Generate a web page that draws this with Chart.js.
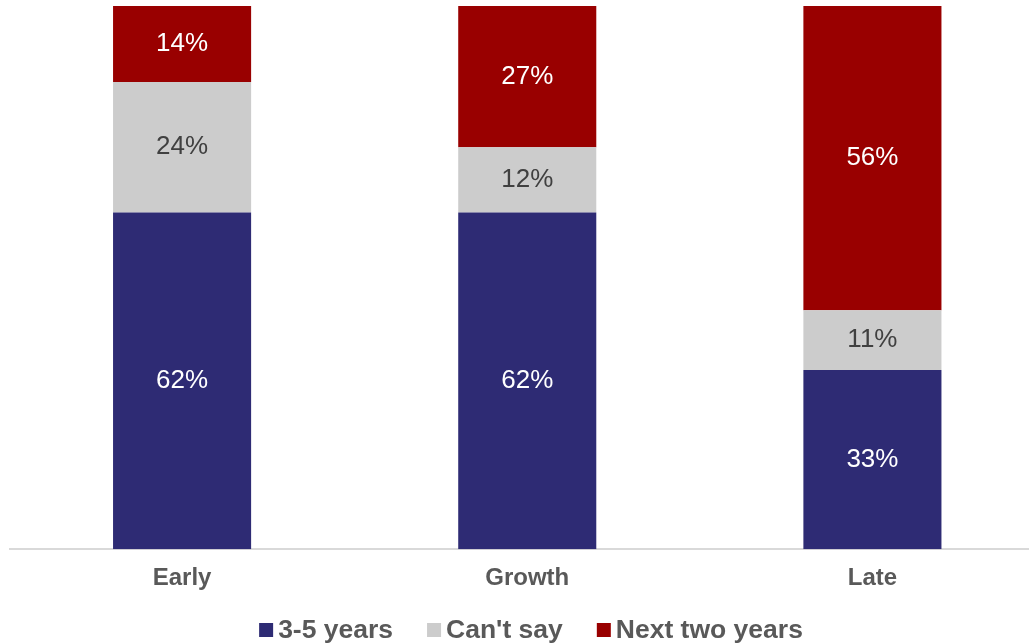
<!DOCTYPE html>
<html>
<head>
<meta charset="utf-8">
<script src="https://cdn.jsdelivr.net/npm/chart.js@4/dist/chart.umd.min.js"></script>
<style>
  html, body { margin: 0; padding: 0; background: #fff; overflow: hidden; }
  #wrap { position: absolute; left: 0; top: 0; width: 1045px; height: 644px; }
</style>
</head>
<body>
<div id="wrap"><canvas id="chart" width="1045" height="644"></canvas></div>
<script>
// stages and their answers (share of respondents, %)
var stages = ['Early', 'Growth', 'Late'];
var seriesNames = ['3-5 years', "Can't say", 'Next two years'];
var threeToFive = [62, 62, 33];
var cantSay = [24, 12, 11];
var nextTwo = [14, 27, 56];

var colors = ['#2e2b74', '#cccccc', '#990000'];
var labelColors = ['#ffffff', '#404040', '#ffffff'];
var FONT = '"Liberation Sans", Arial, sans-serif';

// writes the % value in the middle of every segment
var segmentLabels = {
	id: 'segmentLabels',
	afterDatasetsDraw: function(chart){
		var ctx = chart.ctx;
		var top = chart.chartArea.top;
		ctx.save();
		ctx.font = '26px ' + FONT;
		ctx.textAlign = 'center';
		ctx.textBaseline = 'middle';
		chart.data.datasets.forEach(function(ds, i){
			chart.getDatasetMeta(i).data.forEach(function(bar, j){
				var y = (Math.max(bar.y, top) + bar.base) / 2;
				ctx.fillStyle = labelColors[i];
				ctx.fillText(ds.data[j] + '%', bar.x, y);
			});
		});
		ctx.restore();
	}
};

// legend row under the axis: small square + bold name
var bottomLegend = {
	id: 'bottomLegend',
	afterDraw: function(chart){
		var ctx = chart.ctx;
		var box = 14, gap = 5, itemGap = 34, y = 630;
		ctx.save();
		ctx.font = 'bold 26.5px ' + FONT;
		ctx.textBaseline = 'middle';
		var widths = seriesNames.map(function(n){ return ctx.measureText(n).width; });
		var total = 0;
		widths.forEach(function(w, i){ total += box + gap + w + (i ? itemGap : 0); });
		var x = 531 - total / 2;
		seriesNames.forEach(function(n, i){
			ctx.fillStyle = colors[i];
			ctx.fillRect(x, y - box / 2, box, box);
			ctx.fillStyle = '#595959';
			ctx.fillText(n, x + box + gap, y + 1);
			x += box + gap + widths[i] + itemGap;
		});
		ctx.restore();
	}
};

var data = [threeToFive, cantSay, nextTwo];

new Chart(document.getElementById('chart'), {
	type: 'bar',
	data: {
		labels: stages,
		datasets: data.map(function(d, i){
			return {
				label: seriesNames[i],
				data: d,
				backgroundColor: colors[i],
				borderWidth: 0,
				barPercentage: 1,
				categoryPercentage: 0.4,
				clip: 0
			};
		})
	},
	options: {
		responsive: false,
		animation: false,
		layout: { padding: { left: 9.5, right: 0, top: 6, bottom: 36 } },
		plugins: { legend: { display: false }, tooltip: { enabled: false } },
		scales: {
			x: {
				stacked: true,
				grid: { display: false, drawTicks: false },
				border: { color: '#d9d9d9', width: 2 },
				ticks: { color: '#595959', padding: 15, font: { family: FONT, size: 24, weight: 'bold' } }
			},
			y: {
				stacked: true,
				display: false,
				min: 0,
				max: 100
			}
		}
	},
	plugins: [segmentLabels, bottomLegend]
});
</script>
</body>
</html>
